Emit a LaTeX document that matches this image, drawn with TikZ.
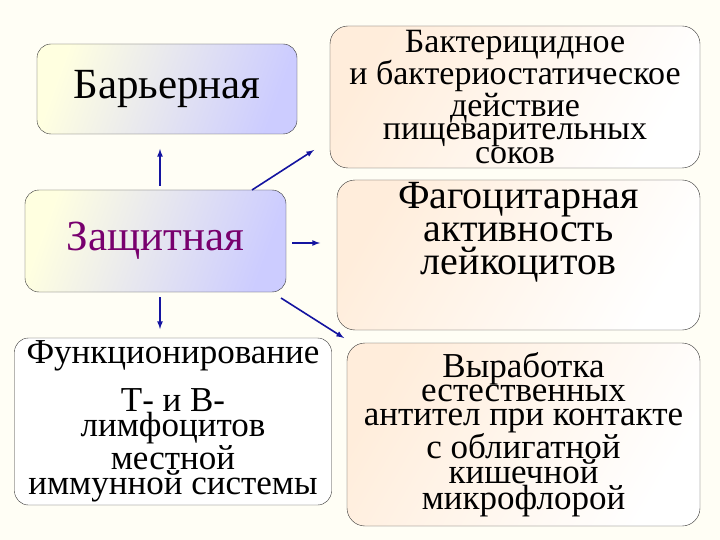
\documentclass[tikz,border=0pt]{standalone}
\usepackage{fontspec}
\setmainfont{Liberation Serif}
\newfontfamily\tnr{Liberation Serif}
\begin{document}
\begin{tikzpicture}[x=1pt,y=-1pt,
  lbox/.style={draw=black!80,rounded corners=14pt,align=center,inner sep=0pt,left color=yellow!12,right color=blue!20,shading angle=70},
  rbox/.style={draw=black!80,rounded corners=18pt,align=center,inner sep=0pt,left color=orange!14,right color=white,shading angle=60},
  arr/.style={-latex,draw={rgb,255:red,20;green,20;blue,160},line width=1.6pt}]
\fill[yellow!4] (0,0) rectangle (720,540);
\useasboundingbox (0,0) rectangle (720,540);
\node[lbox,minimum width=260pt,minimum height=90pt,font=\tnr\fontsize{43}{44}\selectfont] (bar) at (167,89) {Барьерная};
\node[lbox,minimum width=261pt,minimum height=102pt,font=\tnr\fontsize{43}{44}\selectfont,text={rgb,255:red,120;green,0;blue,110}] (zas) at (155.5,241) {Защитная};
\node[draw=black!80,fill=white,rounded corners=14pt,minimum width=317pt,minimum height=167pt,align=center,inner sep=0pt,font=\tnr\fontsize{35}{23}\selectfont] (fun) at (173,421.5) {Функционирование\\[16pt]Т- и В-\\лимфоцитов\\местной\\иммунной системы};
\node[rbox,minimum width=370pt,minimum height=142pt,font=\tnr\fontsize{34}{23}\selectfont] (bak) at (515,97) {Бактерицидное\\и бактериостатическое\\действие\\пищеварительных\\соков};
\node[rbox,minimum width=363pt,minimum height=150pt,font=\tnr\fontsize{40}{33}\selectfont] (fag) at (518.5,255) {Фагоцитарная\\активность\\лейкоцитов\\[20pt]};
\node[rbox,minimum width=353pt,minimum height=183pt,font=\tnr\fontsize{35}{24}\selectfont] (vyr) at (523.5,434.5) {Выработка\\естественных\\антител при контакте\\с облигатной\\кишечной\\микрофлорой};
\coordinate (z1) at (160,186);
\coordinate (z2) at (252,190);
\coordinate (z3) at (292,243);
\coordinate (z4) at (160,297);
\coordinate (z5) at (281,298);
\draw[arr] (z1) -- (160,149);
\draw[arr] (z2) -- (314,150);
\draw[arr] (z3) -- (320,243);
\draw[arr] (z4) -- (160,329);
\draw[arr] (z5) -- (344,338);
\end{tikzpicture}
\end{document}
